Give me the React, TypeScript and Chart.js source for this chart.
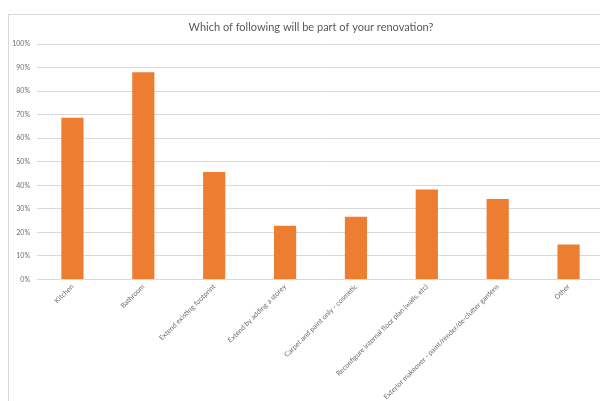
import React, { useEffect, useRef } from "react";
import { Chart, registerables } from "chart.js";

Chart.register(...registerables);

const chartTitle = "Which of following will be part of your renovation?";
const categories = [
  "Kitchen",
  "Bathroom",
  "Extend existing footprint",
  "Extend by adding a storey",
  "Carpet and paint only - cosmetic",
  "Reconfigure internal floor plan (walls, etc)",
  "Exterior makeover - paint/render/de-clutter gardens",
  "Other",
];
const values = [68.7, 88.0, 45.7, 22.8, 26.6, 38.2, 34.2, 14.9];
const yMin = 0;
const yMax = 100;
const yStep = 10;

const frameAndTitle = {
  id: "frameAndTitle",
  beforeDraw(chart: any) {
    const ctx = chart.ctx;
    ctx.save();
    ctx.fillStyle = "#ffffff";
    ctx.fillRect(0, 0, chart.width, chart.height);
    ctx.strokeStyle = "#d9d9d9";
    ctx.lineWidth = 1;
    ctx.strokeRect(8.5, 14.5, chart.width + 20, chart.height + 20);
    ctx.fillStyle = "#595959";
    ctx.font = "11px Lato";
    ctx.textAlign = "center";
    ctx.textBaseline = "middle";
    ctx.fillText(chartTitle, 311, 27.5);
    ctx.restore();
  },
};

export default function App() {
  const ref = useRef<HTMLCanvasElement>(null);
  useEffect(() => {
    if (!ref.current) return;
    const chart = new Chart(ref.current, {
      type: "bar",
      data: {
        labels: categories,
        datasets: [
          {
            data: values,
            backgroundColor: "#ED7D31",
            borderWidth: 0,
            categoryPercentage: 1,
            barPercentage: 0.313,
          },
        ],
      },
      options: {
        responsive: false,
        animation: false,
        devicePixelRatio: 1,
        layout: { padding: { top: 44, left: 0, right: 6, bottom: 0 } },
        plugins: { legend: { display: false }, tooltip: { enabled: false } },
        scales: {
          x: {
            grid: { display: false, drawTicks: false },
            border: { display: false },
            ticks: {
              autoSkip: false,
              minRotation: 45,
              maxRotation: 45,
              padding: 3,
              color: "#6e6e6e",
              font: { family: "Lato", size: 7 },
            },
            afterFit: (s: any) => {
              s.height = 121.5;
            },
          },
          y: {
            min: yMin,
            max: yMax,
            grid: { color: "#d9d9d9", drawTicks: false },
            border: { display: false },
            ticks: {
              stepSize: yStep,
              padding: 7,
              color: "#6e6e6e",
              font: { family: "Lato", size: 7 },
              callback: (v: any) => v + "%",
            },
            afterFit: (s: any) => {
              s.width = 37;
            },
          },
        },
      },
      plugins: [frameAndTitle],
    });
    return () => chart.destroy();
  }, []);
  return (
    <div
      style={{
        position: "fixed",
        left: 0,
        top: 0,
        width: 600,
        height: 401,
        overflow: "hidden",
        background: "#fff",
      }}
    >
      <canvas ref={ref} width={610} height={401} />
    </div>
  );
}
